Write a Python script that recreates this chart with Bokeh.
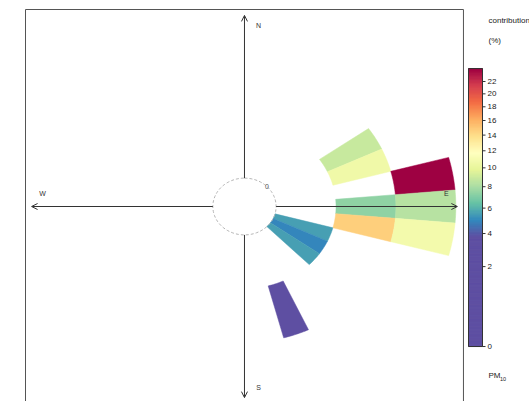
import numpy as np
from bokeh.plotting import figure
from bokeh.layouts import row
from bokeh.models import Range1d, Arrow, OpenHead
from bokeh.core.properties import value
from bokeh.embed import file_html
from bokeh.resources import INLINE

# ---------------- data ----------------
wind_dir = [60, 70, 80, 90, 90, 100, 100, 110, 120, 130, 160]      # bin centre, degrees
ws_bin = [1, 1, 2, 1, 2, 1, 2, 0, 0, 0, 1]                         # wind-speed bin index
contribution = [8.9, 10.6, 24.2, 7.4, 8.4, 14.7, 10.8, 5.6, 5.0, 5.6, 3.8]  # %
key_ticks = [0, 2, 4, 6, 8, 10, 12, 14, 16, 18, 20, 22]
compass_labels = ["N", "E", "S", "W"]
compass_angles = [0, 90, 180, 270]
speed_label = ["0"]

# ---------------- style / geometry ----------------
FONT = value("Liberation Sans")
offset = 0.52
dir_width = 10
ws_width = 0.985
axis_len = 3.5
palette = ['#5e4fa2', '#3288bd', '#66c2a5', '#abdda4', '#e6f598', '#ffffbf',
           '#fee08b', '#fdae61', '#f46d43', '#d53e4f', '#9e0142']
pal_rgb = np.array([[int(c[i:i + 2], 16) for i in (1, 3, 5)] for c in palette], float)

vmin, vmax = min(contribution), max(contribution)
smin, smax = np.sqrt(vmin), np.sqrt(vmax)


def colour(v):
    t = (np.sqrt(max(v, 0)) - smin) / (smax - smin)
    t = min(max(t, 0.0), 1.0) * (len(palette) - 1)
    i = int(np.floor(t))
    if i >= len(palette) - 1:
        rgb = pal_rgb[-1]
    else:
        f = t - i
        rgb = pal_rgb[i] * (1 - f) + pal_rgb[i + 1] * f
    return "#%02x%02x%02x" % tuple(int(round(c)) for c in rgb)


# ---------------- main polar panel ----------------
p = figure(width=466, height=401, x_range=Range1d(-4.011, 3.650),
           y_range=Range1d(-3.571, 3.773), x_axis_type=None, y_axis_type=None,
           output_backend="svg", toolbar_location=None, min_border=0)
p.grid.visible = False
p.outline_line_color = None
p.background_fill_color = "white"

# panel border (bottom lies below the window)
p.line(x=[-3.6, -3.6, 3.6, 3.6], y=[-4.5, 3.608, 3.608, -4.5],
       line_color="#555555", line_width=1)

xs, ys, cols = [], [], []
for d, b, c in zip(wind_dir, ws_bin, contribution):
    th = np.radians(np.linspace(d - dir_width / 2, d + dir_width / 2, 15))
    r_in = offset + b * ws_width
    r_out = r_in + ws_width
    x = np.concatenate([r_in * np.sin(th), r_out * np.sin(th[::-1])])
    y = np.concatenate([r_in * np.cos(th), r_out * np.cos(th[::-1])])
    xs.append(list(x))
    ys.append(list(y))
    cols.append(colour(c))
p.patches(xs=xs, ys=ys, fill_color=cols, line_color=cols, line_width=0.5)

# inner circle (calm / offset)
tt = np.linspace(0, 2 * np.pi, 120)
p.line(x=offset * np.sin(tt), y=offset * np.cos(tt), line_color="#b5b5b5",
       line_width=1, line_dash="3 2")

# compass axes with arrow heads
for a in compass_angles:
    ar = np.radians(a)
    p.add_layout(Arrow(end=OpenHead(size=6, line_color="#333333", line_width=1),
                       x_start=offset * np.sin(ar), y_start=offset * np.cos(ar),
                       x_end=axis_len * np.sin(ar), y_end=axis_len * np.cos(ar),
                       line_color="#333333", line_width=1))

lab_r = 3.32
lab_x, lab_y = [], []
for a in compass_angles:
    ar = np.radians(a)
    x = lab_r * np.sin(ar)
    y = lab_r * np.cos(ar)
    if a in (0, 180):
        x += 0.23
    else:
        y += 0.24
    lab_x.append(x)
    lab_y.append(y)
p.text(x=lab_x, y=lab_y, text=compass_labels, text_font=FONT, text_font_size="7px",
       text_color="#333333", text_align="center", text_baseline="middle")

p.text(x=[0.52 * np.sin(np.radians(45))], y=[0.52 * np.cos(np.radians(45))],
       text=speed_label, text_font=FONT, text_font_size="7px", text_color="#555555",
       text_align="center", text_baseline="middle")

# ---------------- colour key (sqrt scale) ----------------
cb = figure(width=63, height=401, x_range=Range1d(0, 63), y_range=Range1d(-0.973, 6.124),
            x_axis_type=None, y_axis_type=None, output_backend="svg",
            toolbar_location=None, min_border=0)
cb.grid.visible = False
cb.outline_line_color = None

s_edges = np.linspace(0, smax, 241)
grad_cols = [colour(((a + b) / 2) ** 2) for a, b in zip(s_edges[:-1], s_edges[1:])]
cb.quad(left=2, right=16, bottom=s_edges[:-1], top=s_edges[1:],
        fill_color=grad_cols, line_color=grad_cols, line_width=1)
cb.quad(left=[2], right=[16], bottom=[0], top=[smax], fill_color=None,
        line_color="#333333", line_width=1)

tick_s = [np.sqrt(v) for v in key_ticks]
cb.segment(x0=16, x1=19, y0=tick_s, y1=tick_s, line_color="#333333", line_width=1)
cb.text(x=[21] * len(key_ticks), y=tick_s, text=[str(v) for v in key_ticks],
        text_font=FONT, text_font_size="8px", text_color="#222222",
        text_align="left", text_baseline="middle")

cb.text(x=[22, 22], y=[5.77, 5.416], text=["contribution", "(%)"], text_font=FONT,
        text_font_size="8px", text_color="#222222", text_align="left",
        text_baseline="middle")
cb.text(x=[22], y=[-0.513], text=["PM"], text_font=FONT, text_font_size="8px",
        text_color="#222222", text_align="left", text_baseline="middle")
cb.text(x=[33.5], y=[-0.575], text=["10"], text_font=FONT, text_font_size="5.5px",
        text_color="#222222", text_align="left", text_baseline="middle")

layout = row(p, cb)
open("out.html", "w").write(file_html(layout, INLINE))
